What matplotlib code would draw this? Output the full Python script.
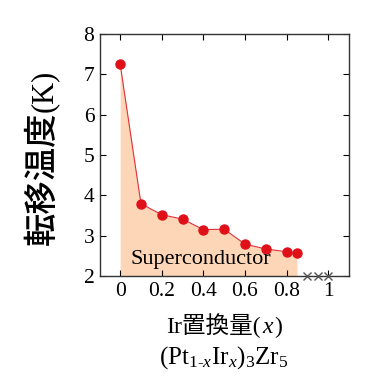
import numpy as np
import matplotlib
matplotlib.use("Agg")
import matplotlib.pyplot as plt
from matplotlib.offsetbox import TextArea, HPacker, AnchoredOffsetbox

# Ir substitution x and transition temperature Tc (K)
ir_x = [0.0, 0.1, 0.2, 0.3, 0.4, 0.5, 0.6, 0.7, 0.8, 0.85]
tc_k = [7.25, 3.79, 3.52, 3.41, 3.15, 3.16, 2.79, 2.67, 2.60, 2.56]
# non-superconducting samples (marked with x at the axis floor)
normal_x = [0.9, 0.95, 1.0]
normal_y = [2.0, 2.0, 2.0]

x_ticks = [0, 0.2, 0.4, 0.6, 0.8, 1]
x_ticklabels = ["0", "0.2", "0.4", "0.6", "0.8", "1"]
y_ticks = [2, 3, 4, 5, 6, 7, 8]

SERIF = ["Liberation Serif", "Noto Sans CJK JP"]
plt.rcParams["font.family"] = SERIF
plt.rcParams["mathtext.fontset"] = "custom"
plt.rcParams["mathtext.rm"] = "Liberation Serif"
plt.rcParams["mathtext.it"] = "Liberation Serif:italic"

fig = plt.figure(figsize=(3.81, 3.87), dpi=100)
ax = fig.add_axes([100 / 381, 1 - 276 / 387, 249 / 381, 242 / 387])

ax.fill_between(ir_x, tc_k, 2, color="#fdd6b8", lw=0, zorder=1)
ax.plot(ir_x, tc_k, "-", color="#e0303a", lw=0.8, zorder=2)
ax.plot(ir_x, tc_k, "o", color="#e01018", ms=6.5, mec="#e01018", zorder=3)
ax.plot(normal_x, normal_y, "x", color="#555555", ms=6, mew=1.0,
        clip_on=False, zorder=4)

ax.set_xlim(-0.097, 1.1)
ax.set_ylim(2, 8)
ax.set_xticks(x_ticks)
ax.set_xticklabels(x_ticklabels)
ax.set_yticks(y_ticks)
ax.tick_params(direction="in", top=True, right=True, length=4, width=0.8,
               labelsize=15.5, pad=4)
for s in ax.spines.values():
    s.set_linewidth(1.0)
    s.set_color("#333333")

ax.text(0.05, 2.42, "Superconductor", fontsize=16, ha="left", va="center",
        family=SERIF, zorder=5)

# y label: gothic CJK part + serif unit
fig.text(42 / 381, 1 - 245 / 387, "転移温度", rotation=90, fontsize=24,
         fontweight="medium", family=["Noto Sans CJK JP"], ha="center",
         va="bottom")
fig.text(44 / 381, 1 - 112 / 387, "(K)", rotation=90, fontsize=22,
         family="Liberation Serif", ha="center", va="bottom")

# x label: mixed fonts, italic x
parts = [
    TextArea("Ir置換量(", textprops=dict(fontsize=17, family=SERIF)),
    TextArea("x", textprops=dict(fontsize=17, family="Liberation Serif",
                                 style="italic")),
    TextArea(")", textprops=dict(fontsize=17, family=SERIF)),
]
xlab = AnchoredOffsetbox(loc="center", child=HPacker(children=parts, sep=1,
                                                     pad=0, align="baseline"),
                         frameon=False, pad=0, borderpad=0,
                         bbox_to_anchor=(224 / 381, 1 - 326 / 387),
                         bbox_transform=fig.transFigure)
fig.add_artist(xlab)

fig.text(224 / 381, 1 - 358 / 387,
         r"$\mathrm{(Pt}_{1\text{-}\mathit{x}}\mathrm{Ir}_{\mathit{x}}\mathrm{)}_3\mathrm{Zr}_5$",
         fontsize=18, ha="center", va="center")

fig.savefig("out.png", dpi=100)
